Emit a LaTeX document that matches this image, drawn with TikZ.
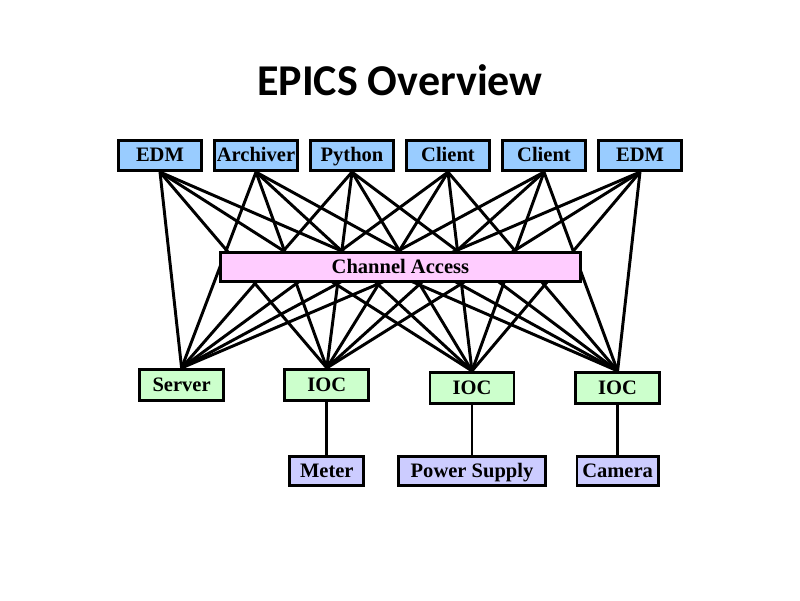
\documentclass[tikz,border=0pt]{standalone}
\usepackage{fontspec}
\setmainfont{Liberation Serif}
\newfontfamily\titlefont{Carlito}
\usetikzlibrary{positioning}
\definecolor{EpxClient}{HTML}{99CCFF}
\definecolor{EpxCA}{HTML}{FFCCFF}
\definecolor{EpxIoc}{HTML}{CCFFCC}
\definecolor{EpxDev}{HTML}{CCCCFF}

\begin{document}
\begin{tikzpicture}[
    box/.style={draw,line width=2.1pt,inner sep=0pt,minimum height=.75cm,
      text height=11pt,text depth=2pt,font=\bfseries\fontsize{14.6}{16}\selectfont},
    client/.style={box,fill=EpxClient,minimum width=2.08cm},
    ioc/.style={box,fill=EpxIoc,minimum width=2.1cm,minimum height=.78cm},
    device/.style={box,fill=EpxDev,minimum height=.73cm},
    link/.style={line width=2.1pt}]
  \useasboundingbox (0,0) rectangle (20,15);
  \node[font=\titlefont\bfseries\fontsize{31.3}{35}\selectfont] (title) at (10,13) {EPICS Overview};
  % clients
  \node[client] (edmA) at (4,11.11) {EDM};
  \node[client] (arch) at (6.4,11.11) {Archiver};
  \node[client] (py)   at (8.8,11.11) {Python};
  \node[client] (cliA) at (11.2,11.11) {Client};
  \node[client] (cliB) at (13.6,11.11) {Client};
  \node[client] (edmB) at (16,11.11) {EDM};
  % servers
  \node[ioc] (srv)  at (4.54,5.375) {Server};
  \node[ioc] (iocA) at (8.17,5.375) {IOC};
  \node[ioc] (iocB) at (11.8,5.3) {IOC};
  \node[ioc] (iocC) at (15.44,5.3) {IOC};
  % devices
  \node[device,minimum width=1.85cm] (meter) at (8.17,3.225) {Meter};
  \node[device,minimum width=3.68cm] (psu)   at (11.8,3.225) {Power Supply};
  \node[device,minimum width=2.03cm] (cam)   at (15.44,3.225) {Camera};
  \foreach \c in {edmA,arch,py,cliA,cliB,edmB}
    \foreach \s in {srv,iocA,iocB,iocC}
      \draw[link] (\c.south) -- (\s.north);
  \draw[link] (iocA) -- (meter);
  \draw[link] (iocB) -- (psu);
  \draw[link] (iocC) -- (cam);
  % channel access covers the middle
  \node[box,fill=EpxCA,minimum width=9cm,minimum height=.73cm] (ca) at (10.01,8.325) {Channel Access};
\end{tikzpicture}
\end{document}
